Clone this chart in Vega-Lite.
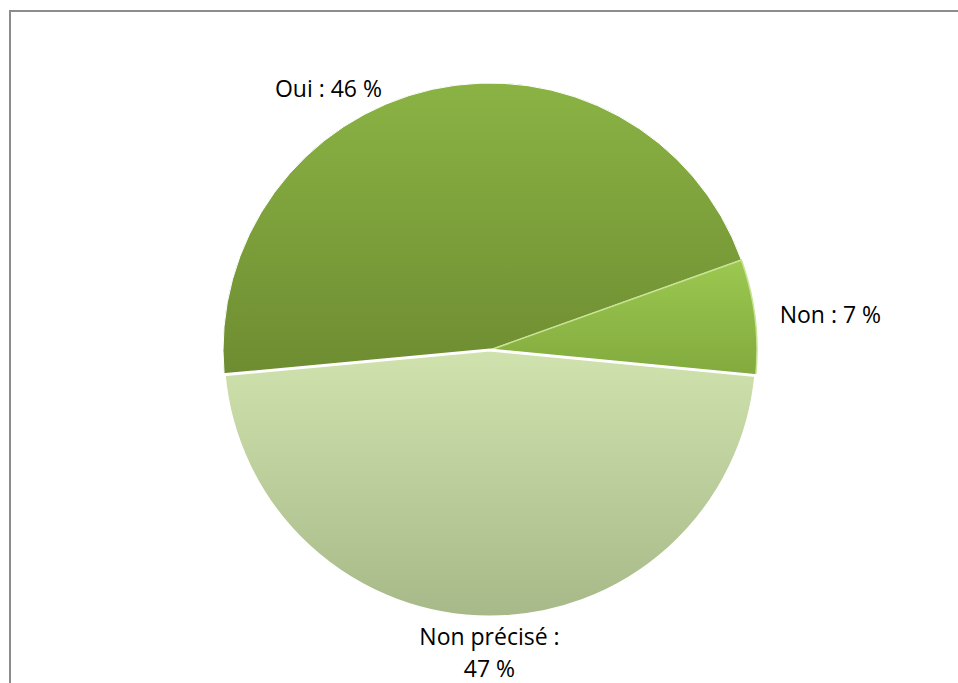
{
  "$schema": "https://vega.github.io/schema/vega-lite/v6.json",
  "autosize": {"type": "none"},
  "padding": {"left": 10, "top": 11, "right": 0, "bottom": 0},
  "width": 960,
  "height": 678,
  "background": "#ffffff",
  "view": {"stroke": "#8c8c8c", "strokeWidth": 2, "fill": "#ffffff"},
  "data": {
    "values": [
      {"cat": "Non", "pct": 7, "ord": 1, "label": "Non : 7 %"},
      {"cat": "Non précisé", "pct": 47, "ord": 2, "label": "Non précisé :\n47 %"},
      {"cat": "Oui", "pct": 46, "ord": 3, "label": "Oui : 46 %"}
    ]
  },
  "encoding": {
    "theta": {"field": "pct", "type": "quantitative", "stack": true, "scale": {"range": [1.227, 7.5102]}},
    "order": {"field": "ord", "type": "quantitative"}
  },
  "layer": [
    {
      "mark": {"type": "arc", "radius": 267, "stroke": "#ffffff", "strokeWidth": 1,
        "color": {"gradient": "linear", "x1": 0, "y1": 0, "x2": 0, "y2": 1,
          "stops": [{"offset": 0, "color": "#8ab344"}, {"offset": 1, "color": "#6e8c31"}]}},
      "encoding": {"opacity": {"condition": {"test": "datum.cat === 'Oui'", "value": 1}, "value": 0}}
    },
    {
      "mark": {"type": "arc", "radius": 267, "stroke": "#c8e394", "strokeWidth": 1.5,
        "color": {"gradient": "linear", "x1": 0, "y1": 0, "x2": 0, "y2": 1,
          "stops": [{"offset": 0, "color": "#9cc850"}, {"offset": 1, "color": "#82aa3e"}]}},
      "encoding": {"opacity": {"condition": {"test": "datum.cat === 'Non'", "value": 1}, "value": 0}}
    },
    {
      "mark": {"type": "arc", "radius": 267, "stroke": "#ffffff", "strokeWidth": 3,
        "color": {"gradient": "linear", "x1": 0, "y1": 0, "x2": 0, "y2": 1,
          "stops": [{"offset": 0, "color": "#d0e2ad"}, {"offset": 1, "color": "#a7b988"}]}},
      "encoding": {"opacity": {"condition": {"test": "datum.cat === 'Non précisé'", "value": 1}, "value": 0}}
    },
    {
      "mark": {"type": "text", "radius": 266, "dx": -104, "font": "Open Sans", "fontSize": 23, "color": "#000000", "align": "center", "baseline": "middle"},
      "encoding": {
        "text": {"field": "label"},
        "opacity": {"condition": {"test": "datum.cat === 'Oui'", "value": 1}, "value": 0}
      }
    },
    {
      "mark": {"type": "text", "radius": 343, "dy": 8, "font": "Open Sans", "fontSize": 23, "color": "#000000", "align": "center", "baseline": "middle"},
      "encoding": {
        "text": {"field": "label"},
        "opacity": {"condition": {"test": "datum.cat === 'Non'", "value": 1}, "value": 0}
      }
    },
    {
      "mark": {"type": "text", "radius": 288, "lineBreak": "\n", "lineHeight": 32, "font": "Open Sans", "fontSize": 23, "color": "#000000", "align": "center", "baseline": "middle"},
      "encoding": {
        "text": {"field": "label"},
        "opacity": {"condition": {"test": "datum.cat === 'Non précisé'", "value": 1}, "value": 0}
      }
    }
  ]
}
